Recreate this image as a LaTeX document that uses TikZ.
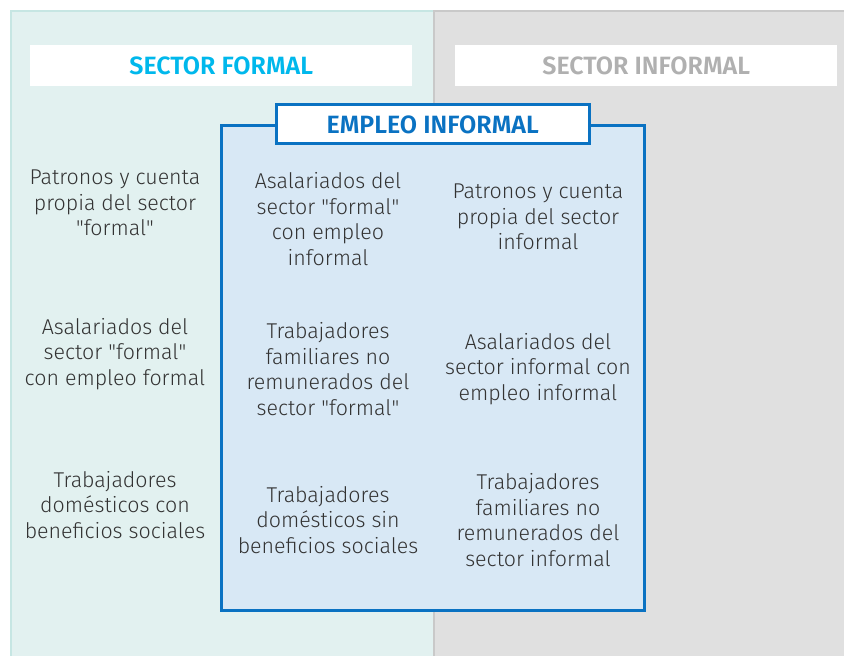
\documentclass[tikz,border=0pt]{standalone}
\usepackage{fontspec}
\setmainfont{Fira Sans}[UprightFont={* Light}, BoldFont={* SemiBold}]
\definecolor{tealfill}{HTML}{E2F1F0}
\definecolor{tealline}{HTML}{C6E6E3}
\definecolor{grayfill}{HTML}{E0E0E0}
\definecolor{grayline}{HTML}{C9C9C9}
\definecolor{empblue}{HTML}{0A72C2}
\definecolor{empfill}{HTML}{D8E8F5}
\definecolor{formalcyan}{HTML}{00B8EC}
\definecolor{informalgray}{HTML}{B0B0B0}
\definecolor{bodytext}{HTML}{333333}
\newcommand{\qq}{\textquotedbl}
\tikzset{
  cell/.style={align=center, text=bodytext, inner sep=0pt, font=\fontsize{21.4}{25.5}\selectfont},
  headbox/.style={fill=white, draw=none},
  headtext/.style={font=\fontsize{25}{28}\selectfont\bfseries, inner sep=0pt},
}
\begin{document}
\begin{tikzpicture}[x=1pt,y=-1pt]
\useasboundingbox (0,0) rectangle (844,656);
\clip (0,0) rectangle (844,656);
% panels
\path[fill=white] (0,0) rectangle (844,656);
\draw[fill=tealfill, draw=tealline, line width=2pt] (11,11) rectangle (434,670);
\draw[fill=grayfill, draw=grayline, line width=2pt] (434,11) rectangle (860,670);
% header boxes
\node[headbox, minimum width=382pt, minimum height=41pt, anchor=north west] (hf) at (30,45) {};
\node[headbox, minimum width=382pt, minimum height=41pt, anchor=north west] (hi) at (455,45) {};
\node[headtext, text=formalcyan] (hft) at (hf.center) {SECTOR FORMAL};
\node[headtext, text=informalgray] (hit) at (hi.center) {SECTOR INFORMAL};
% empleo informal box
\draw[fill=empfill, draw=empblue, line width=3pt] (221.5,125.5) rectangle (644.5,610.5);
\draw[fill=white, draw=empblue, line width=3pt] (276.5,104) rectangle (589,143);
\node[headtext, text=empblue] (emp) at (432.7,124.5) {EMPLEO INFORMAL};
% left column
\node[cell] (l1) at (115,203) {Patronos y cuenta\\propia del sector\\\qq formal\qq};
\node[cell] (l2) at (115,354) {Asalariados del\\sector \qq formal\qq\\con empleo formal};
\node[cell] (l3) at (115,505) {Trabajadores\\domésticos con\\beneficios sociales};
% middle column
\node[cell] (m1) at (328,219) {Asalariados del\\sector \qq formal\qq\\con empleo\\informal};
\node[cell] (m2) at (328,369) {Trabajadores\\familiares no\\remunerados del\\sector \qq formal\qq};
\node[cell] (m3) at (328,520) {Trabajadores\\domésticos sin\\beneficios sociales};
% right column
\node[cell] (r1) at (538,217) {Patronos y cuenta\\propia del sector\\informal};
\node[cell] (r2) at (538,369) {Asalariados del\\sector informal con\\empleo informal};
\node[cell] (r3) at (538,520) {Trabajadores\\familiares no\\remunerados del\\sector informal};
\end{tikzpicture}
\end{document}
